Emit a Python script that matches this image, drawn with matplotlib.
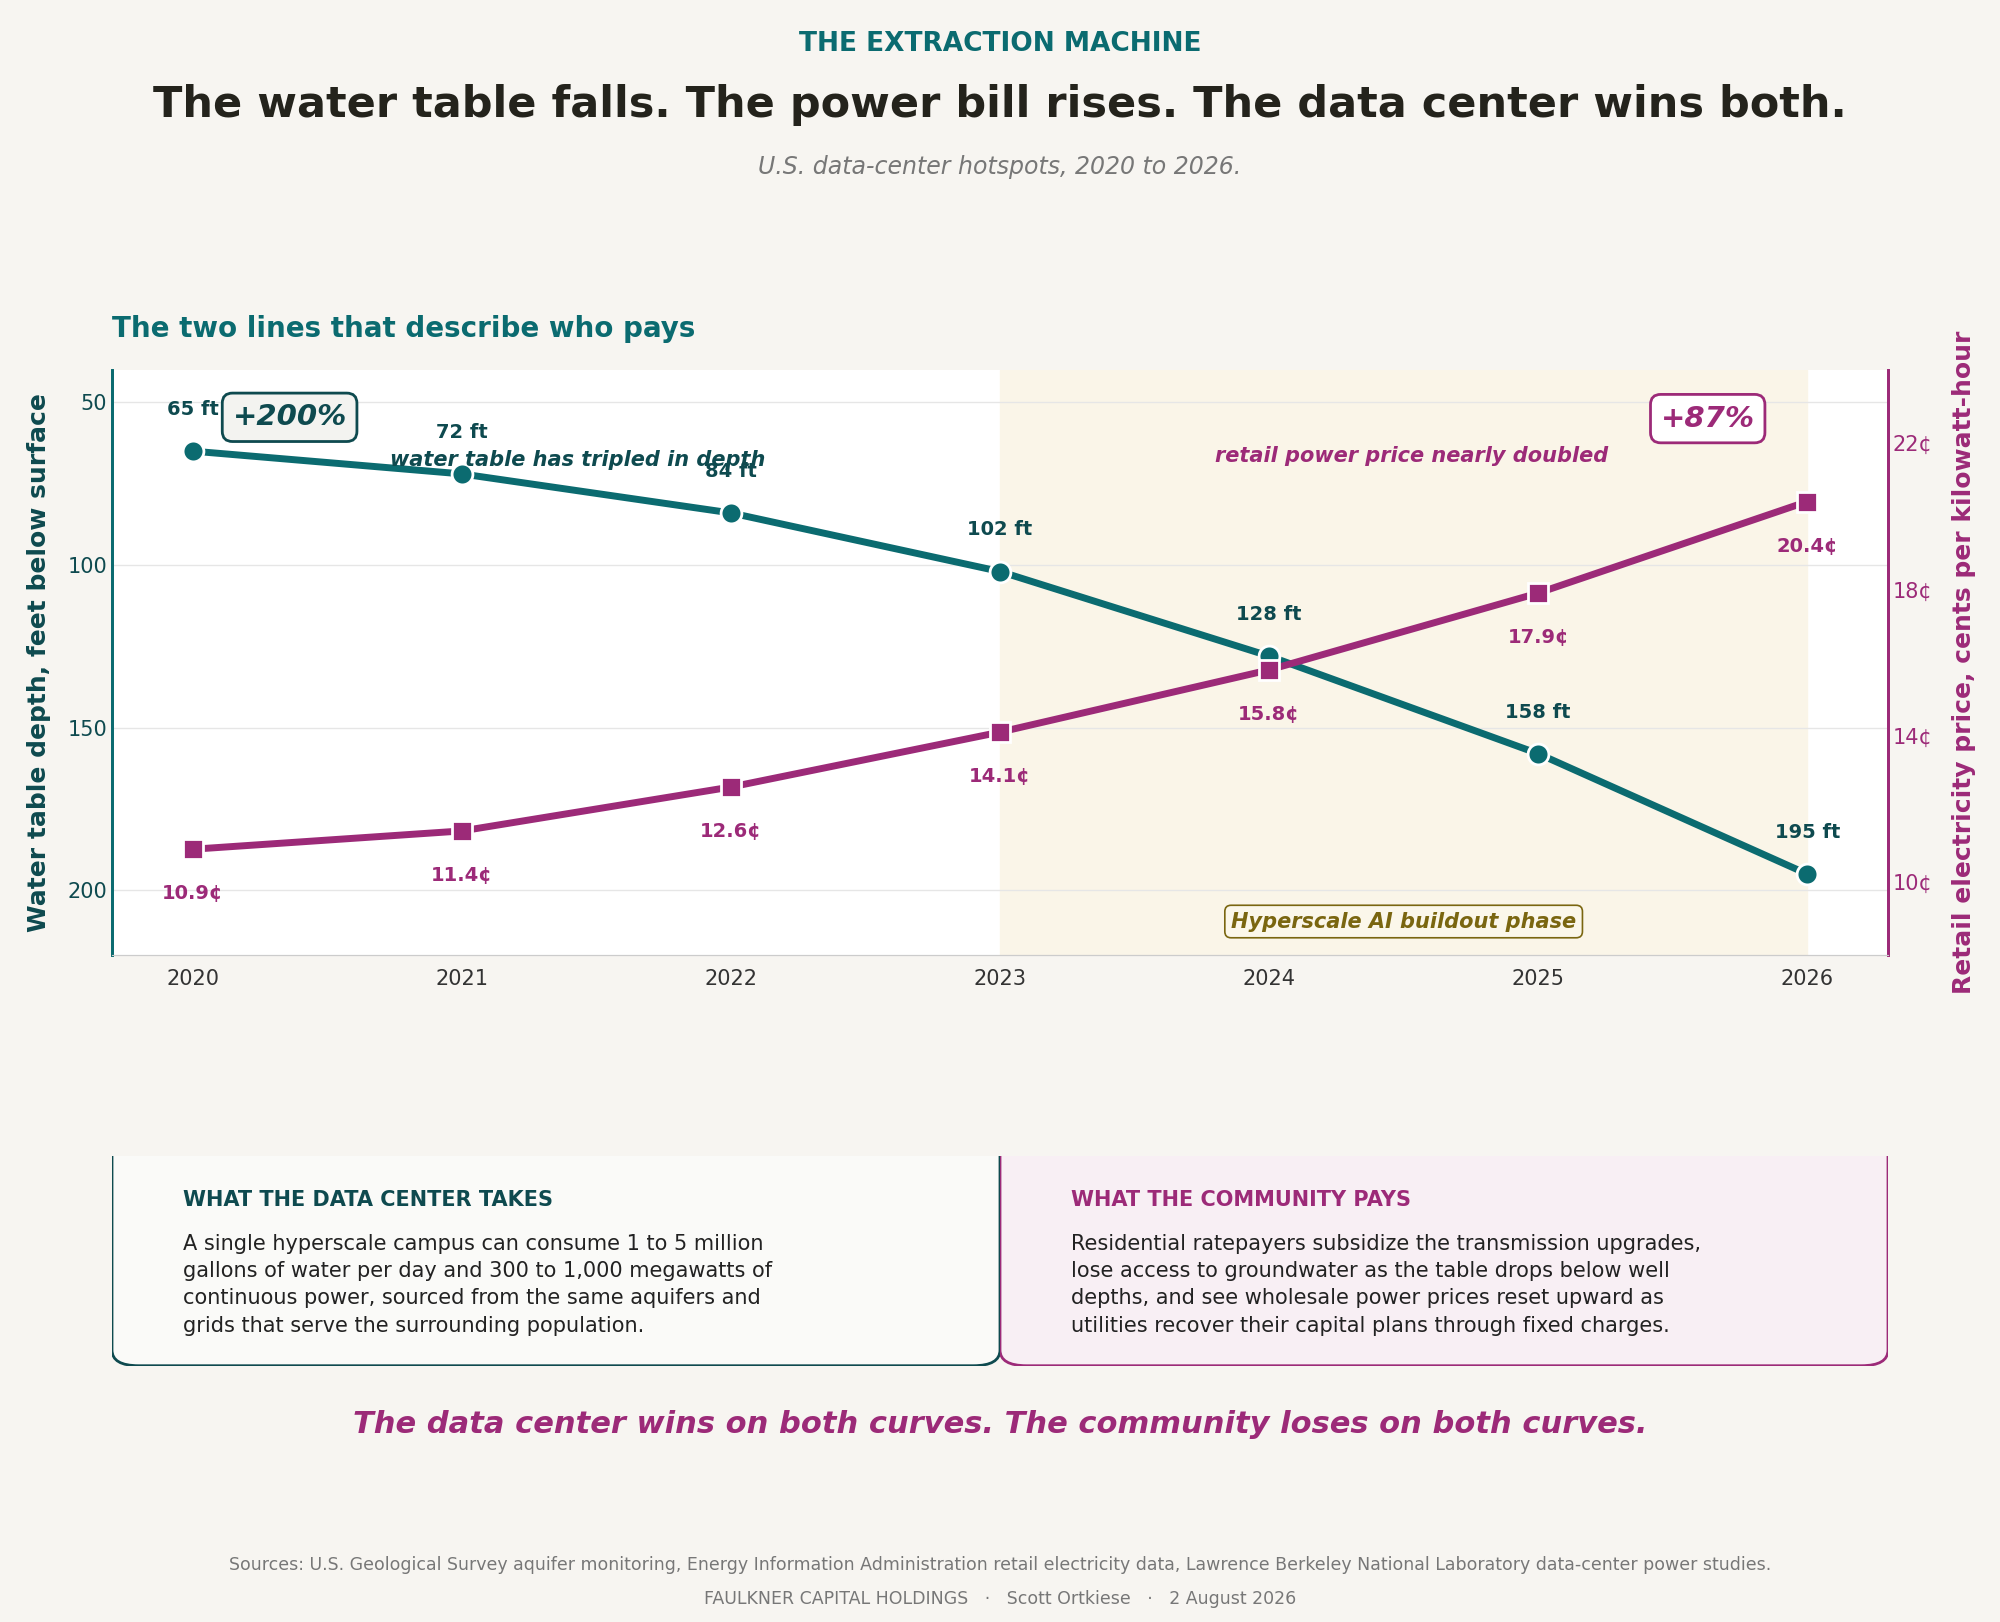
import matplotlib.pyplot as plt
from matplotlib.patches import FancyBboxPatch

years = [2020, 2021, 2022, 2023, 2024, 2025, 2026]
depth_ft = [65, 72, 84, 102, 128, 158, 195]
price_c = [10.9, 11.4, 12.6, 14.1, 15.8, 17.9, 20.4]

TEAL = '#0b6b70'
DTEAL = '#0e4a4f'
MAG = '#9c2a78'
BG = '#f7f5f1'
OLIVE = '#7a6610'

fig = plt.figure(figsize=(20, 16.22), dpi=100)
fig.patch.set_facecolor(BG)

fig.text(0.5, 0.973, 'THE EXTRACTION MACHINE', ha='center', va='center',
         fontsize=19, fontweight='bold', color=TEAL)
fig.text(0.5, 0.935, 'The water table falls. The power bill rises. The data center wins both.',
         ha='center', va='center', fontsize=31, fontweight='bold', color='#24231c')
fig.text(0.5, 0.897, 'U.S. data-center hotspots, 2020 to 2026.', ha='center', va='center',
         fontsize=17, style='italic', color='#777777')
fig.text(0.056, 0.797, 'The two lines that describe who pays', ha='left', va='center',
         fontsize=20, fontweight='bold', color=TEAL)

ax = fig.add_axes([0.056, 0.411, 0.888, 0.361])
ax.set_facecolor('white')
ax2 = ax.twinx()

ax.axvspan(2023, 2026, color='#faf5e8', zorder=0)
ax.plot(years, depth_ft, color=TEAL, lw=5, marker='o', ms=15, mec='white', mew=2, zorder=4)
ax2.plot(years, price_c, color=MAG, lw=5, marker='s', ms=15, mec='white', mew=2, zorder=4)

ax.set_xlim(2019.7, 2026.3)
ax.set_ylim(220, 40)
ax2.set_ylim(8, 24)
ax.set_yticks([50, 100, 150, 200])
ax2.set_yticks([10, 14, 18, 22])
ax2.set_yticklabels([f'{v}¢' for v in [10, 14, 18, 22]])
ax.set_xticks(years)
ax.grid(axis='y', color='#e6e6e6', lw=1)
ax.set_axisbelow(True)

ax.tick_params(axis='x', labelsize=15, colors='#333333', length=0, pad=10)
ax.tick_params(axis='y', labelsize=15, colors=DTEAL, length=0)
ax2.tick_params(axis='y', labelsize=15, colors=MAG, length=0)
for a in (ax, ax2):
    a.spines['top'].set_visible(False)
    a.spines['left'].set_color(TEAL)
    a.spines['left'].set_linewidth(2)
    a.spines['right'].set_color(MAG)
    a.spines['right'].set_linewidth(2)
    a.spines['bottom'].set_color('#cccccc')
ax.set_ylabel('Water table depth, feet below surface', fontsize=18, fontweight='bold',
              color=DTEAL, labelpad=12)
ax2.set_ylabel('Retail electricity price, cents per kilowatt-hour', fontsize=18,
               fontweight='bold', color=MAG, rotation=90, labelpad=14)

for x, d in zip(years, depth_ft):
    ax.annotate(f'{d} ft', (x, d), xytext=(0, 26), textcoords='offset points', ha='center',
                fontsize=14, fontweight='bold', color=DTEAL, zorder=6)
for x, p in zip(years, price_c):
    ax2.annotate(f'{p}¢', (x, p), xytext=(0, -36), textcoords='offset points', ha='center',
                 fontsize=14, fontweight='bold', color=MAG, zorder=6)

ax.text(2021.43, 67.6, 'water table has tripled in depth', ha='center', va='center',
        fontsize=15, fontweight='bold', style='italic', color=DTEAL, zorder=7)
ax.text(2024.53, 66.6, 'retail power price nearly doubled', ha='center', va='center',
        fontsize=15, fontweight='bold', style='italic', color=MAG, zorder=7)
ax.text(2020.36, 54.6, '+200%', ha='center', va='center', fontsize=21, fontweight='bold',
        style='italic', color=DTEAL, zorder=7,
        bbox=dict(boxstyle='round,pad=0.35', fc='#f3f3f0', ec=DTEAL, lw=2))
ax.text(2025.63, 55, '+87%', ha='center', va='center', fontsize=21, fontweight='bold',
        style='italic', color=MAG, zorder=7,
        bbox=dict(boxstyle='round,pad=0.35', fc='white', ec=MAG, lw=2))
ax.text(2024.5, 209.6, 'Hyperscale AI buildout phase', ha='center', va='center', fontsize=15,
        fontweight='bold', style='italic', color=OLIVE, zorder=7,
        bbox=dict(boxstyle='round,pad=0.3', fc='#fbf7ea', ec=OLIVE, lw=1.2))

# bottom panels
panels = [
    (0.056, DTEAL, '#fafaf8', 'WHAT THE DATA CENTER TAKES',
     'A single hyperscale campus can consume 1 to 5 million\n'
     'gallons of water per day and 300 to 1,000 megawatts of\n'
     'continuous power, sourced from the same aquifers and\n'
     'grids that serve the surrounding population.'),
    (0.5, MAG, '#f8eff4', 'WHAT THE COMMUNITY PAYS',
     'Residential ratepayers subsidize the transmission upgrades,\n'
     'lose access to groundwater as the table drops below well\n'
     'depths, and see wholesale power prices reset upward as\n'
     'utilities recover their capital plans through fixed charges.'),
]
for left, ec, fc, head, body in panels:
    pa = fig.add_axes([left, 0.158, 0.444, 0.129])
    pa.set_xlim(0, 1)
    pa.set_ylim(0, 1)
    pa.axis('off')
    box = FancyBboxPatch((0.0, 0.0), 1.0, 1.3, boxstyle='round,pad=0,rounding_size=0.03',
                         fc=fc, ec=ec, lw=2, transform=pa.transAxes, clip_on=True,
                         mutation_aspect=2.5)
    pa.add_patch(box)
    pa.text(0.08, 0.79, head, fontsize=15, fontweight='bold', color=ec, va='center')
    pa.text(0.08, 0.63, body, fontsize=15, color='#222222', va='top', linespacing=1.45)

fig.text(0.5, 0.122, 'The data center wins on both curves. The community loses on both curves.',
         ha='center', va='center', fontsize=22, fontweight='bold', style='italic', color=MAG)
fig.text(0.5, 0.035, 'Sources: U.S. Geological Survey aquifer monitoring, Energy Information '
         'Administration retail electricity data, Lawrence Berkeley National Laboratory '
         'data-center power studies.', ha='center', va='center', fontsize=12.5, color='#777777')
fig.text(0.5, 0.014, 'FAULKNER CAPITAL HOLDINGS   ·   Scott Ortkiese   ·   2 August 2026',
         ha='center', va='center', fontsize=12.5, color='#777777')

fig.savefig('out.png', dpi=100, facecolor=BG)
